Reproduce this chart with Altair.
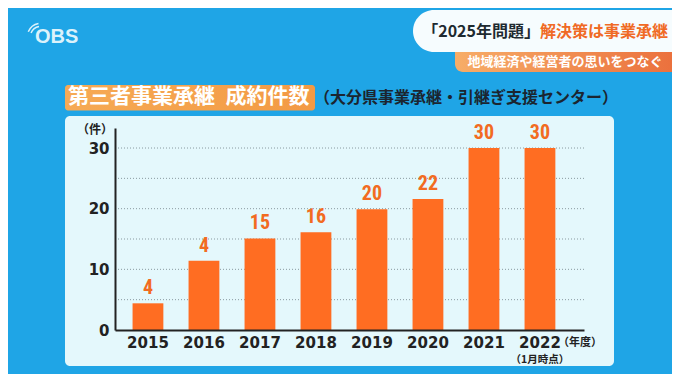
import altair as alt
import pandas as pd

years = ["2015", "2016", "2017", "2018", "2019", "2020", "2021", "2022"]
bar_values = [4.4, 11.4, 15.1, 16.1, 19.9, 21.6, 30, 30]
value_labels = ["4", "4", "15", "16", "20", "22", "30", "30"]
y_ticks = [0, 10, 20, 30]
grid_values = [5, 10, 15, 20, 25, 30]

title_main = "第三者事業承継\u2002成約件数"
title_sub = "（大分県事業承継・引継ぎ支援センター）"
head_dark = "「2025年問題」"
head_orange = "解決策は事業承継"
ribbon_text = "地域経済や経営者の思いをつなぐ"
unit_text = "（件）"
year_note = "（年度）"
jan_note = "（1月時点）"
logo_text = "OBS"

JP = "Noto Sans CJK JP"
NUM = "DejaVu Sans"
BLUE_BG = "#1fa5e6"
PANEL = "#e4f8fc"
BAR = "#ff6d22"
LABEL = "#f26b21"
DARK = "#222222"

W, H = 469, 202

df = pd.DataFrame({"year": years, "bar": bar_values, "label": value_labels})
grid_df = pd.DataFrame({"g": grid_values})
one = pd.DataFrame({"a": [0]})

x_scale = alt.Scale(domain=years, paddingInner=0.45, paddingOuter=0.4125, align=0.38)
y_scale = alt.Scale(domain=[0, 33.3], nice=False, zero=True)

x_axis = alt.Axis(title=None, labelAngle=0, labelFont=NUM, labelFontSize=15,
                  labelFontWeight="bold", labelColor=DARK, ticks=False,
                  domainColor=DARK, domainWidth=2, labelPadding=5, grid=False, zindex=1)
y_axis = alt.Axis(title=None, values=y_ticks, labelFont=NUM, labelFontSize=15,
                  labelFontWeight="bold", labelColor=DARK, ticks=False,
                  domainColor=DARK, domainWidth=2, labelPadding=6, grid=False, zindex=1)

panel = alt.Chart(one).mark_rect(color=PANEL, cornerRadius=5).encode(
    x=alt.value(-50), x2=alt.value(499), y=alt.value(-12), y2=alt.value(238))

grid = alt.Chart(grid_df).mark_rule(color="#8a9aa0", strokeDash=[1, 2], strokeWidth=1).encode(
    y=alt.Y("g:Q", scale=y_scale, axis=y_axis),
    x=alt.value(0), x2=alt.value(W))

bars = alt.Chart(df).mark_bar(color=BAR).encode(
    x=alt.X("year:N", scale=x_scale, axis=x_axis, sort=years),
    y=alt.Y("bar:Q", scale=y_scale, axis=y_axis))

vals = alt.Chart(df).mark_text(font="Liberation Sans Narrow, Roboto Condensed, Liberation Sans",
                               fontSize=20, fontWeight="bold", color=LABEL,
                               baseline="bottom", dy=-5).encode(
    x=alt.X("year:N", scale=x_scale, sort=years),
    y=alt.Y("bar:Q", scale=y_scale),
    text="label:N")

note_df = pd.DataFrame({"year": ["2022"], "t1": [jan_note], "t2": [year_note]})
jan = alt.Chart(note_df).mark_text(font=JP, fontSize=10.5, fontWeight="bold", color=DARK,
                                   baseline="middle").encode(
    x=alt.X("year:N", scale=x_scale, sort=years), y=alt.value(232), text="t1:N")
yr = alt.Chart(note_df).mark_text(font=JP, fontSize=11, fontWeight="bold", color=DARK,
                                  baseline="middle", align="left", dx=18).encode(
    x=alt.X("year:N", scale=x_scale, sort=years), y=alt.value(215), text="t2:N")

unit = alt.Chart(one).mark_text(font=JP, fontSize=12, fontWeight="bold", color=DARK,
                                baseline="middle").encode(
    x=alt.value(-20), y=alt.value(2), text=alt.value(unit_text))

title_box = alt.Chart(one).mark_rect(cornerRadius=3, color=alt.LinearGradient(
    gradient="linear", x1=0, x2=1, y1=0, y2=0,
    stops=[alt.GradientStop(offset=0, color="#f6aa55"), alt.GradientStop(offset=1, color="#f39a44")])).encode(
    x=alt.value(-50), x2=alt.value(200), y=alt.value(-43), y2=alt.value(-17.5))
title_txt = alt.Chart(one).mark_text(font=JP, fontSize=21, fontWeight="bold", color="white",
                                     align="left", baseline="middle").encode(
    x=alt.value(-47), y=alt.value(-31), text=alt.value(title_main))
sub_txt = alt.Chart(one).mark_text(font=JP, fontSize=16, fontWeight="bold", color="#1b2530",
                                   align="left", baseline="middle").encode(
    x=alt.value(199), y=alt.value(-30), text=alt.value(title_sub))

head_box = alt.Chart(one).mark_rect(cornerRadiusTopLeft=21, cornerRadiusBottomLeft=21,
                                    color="#f6fcfe").encode(
    x=alt.value(298), x2=alt.value(575), y=alt.value(-118), y2=alt.value(-76))
ribbon = alt.Chart(one).mark_rect(cornerRadiusBottomLeft=8, color=alt.LinearGradient(
    gradient="linear", x1=0, x2=1, y1=0, y2=0,
    stops=[alt.GradientStop(offset=0, color="#f7ad68"), alt.GradientStop(offset=1, color="#ea6c3a")])).encode(
    x=alt.value(340), x2=alt.value(575), y=alt.value(-76), y2=alt.value(-56))
head_d = alt.Chart(one).mark_text(font=JP, fontSize=16, fontWeight="bold", color="#1e2a30",
                                  align="right", baseline="middle").encode(
    x=alt.value(425), y=alt.value(-96.5), text=alt.value(head_dark))
head_o = alt.Chart(one).mark_text(font=JP, fontSize=16, fontWeight="bold", color="#f06a25",
                                  align="left", baseline="middle").encode(
    x=alt.value(425), y=alt.value(-96.5), text=alt.value(head_orange))
rib_txt = alt.Chart(one).mark_text(font=JP, fontSize=13, fontWeight="bold", color="white",
                                   baseline="middle").encode(
    x=alt.value(450), y=alt.value(-66), text=alt.value(ribbon_text))

logo = alt.Chart(one).mark_text(font="Liberation Sans", fontSize=20, fontWeight="bold",
                                color="#dcf2fb", align="left", baseline="middle").encode(
    x=alt.value(-80), y=alt.value(-91), text=alt.value(logo_text))
arc1 = alt.Chart(one).mark_arc(color="#dcf2fb").encode(
    x=alt.value(-74), y=alt.value(-91), radius=alt.value(11.5), radius2=alt.value(10),
    theta=alt.value(5.1), theta2=alt.value(6.1))
arc2 = alt.Chart(one).mark_arc(color="#dcf2fb").encode(
    x=alt.value(-74), y=alt.value(-91), radius=alt.value(14.5), radius2=alt.value(13),
    theta=alt.value(5.1), theta2=alt.value(6.1))

chart = alt.layer(
    panel, grid, bars, vals, jan, yr, unit,
    title_box, title_txt, sub_txt, head_box, ribbon, head_d, head_o, rib_txt,
    logo, arc1, arc2,
).properties(
    width=W, height=H, background=BLUE_BG,
    padding={"left": 107, "top": 120, "right": 88, "bottom": 44},
    autosize=alt.AutoSizeParams(type="none"),
).configure_view(stroke=None)

chart.save("out.html", embed_options={"renderer": "svg", "actions": False})
